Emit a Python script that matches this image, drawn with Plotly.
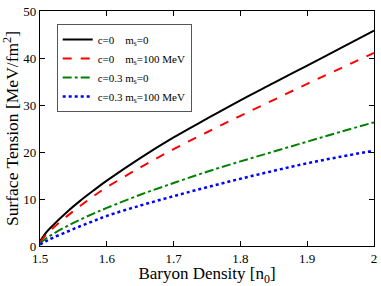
import plotly.graph_objects as go

density = [1.5, 1.51, 1.52, 1.54, 1.56, 1.58, 1.6, 1.65, 1.7, 1.75, 1.8, 1.85, 1.9, 1.95, 2.0]
sigma_c0_ms0 = [1.0, 3.0, 4.5, 7.2, 9.6, 11.8, 13.9, 18.7, 23.1, 27.1, 31.0, 34.7, 38.4, 42.1, 45.8]
sigma_c0_ms100 = [0.8, 2.5, 3.9, 6.3, 8.5, 10.6, 12.5, 16.7, 20.6, 24.2, 27.7, 31.1, 34.5, 37.8, 41.1]
sigma_c03_ms0 = [0.6, 1.7, 2.6, 4.2, 5.6, 6.9, 8.1, 10.9, 13.4, 15.8, 18.0, 20.1, 22.2, 24.3, 26.3]
sigma_c03_ms100 = [0.3, 1.1, 1.8, 3.0, 4.2, 5.3, 6.4, 8.6, 10.6, 12.5, 14.3, 16.0, 17.6, 19.0, 20.3]

NB = "\u00a0"
names = [
    "c=0" + NB * 4 + "m<sub>s</sub>=0",
    "c=0" + NB * 4 + "m<sub>s</sub>=100 MeV",
    "c=0.3" + NB * 1 + "m<sub>s</sub>=0",
    "c=0.3" + NB * 1 + "m<sub>s</sub>=100 MeV",
]
series = [sigma_c0_ms0, sigma_c0_ms100, sigma_c03_ms0, sigma_c03_ms100]
colors = ["#000000", "#ff0000", "#008000", "#0000ff"]
dashes = ["solid", "dash", "dashdot", "dot"]
widths = [2, 2, 2, 2.5]

fig = go.Figure()
for name, ys, c, d, w in zip(names, series, colors, dashes, widths):
    fig.add_trace(go.Scatter(x=density, y=ys, mode="lines", name=name,
                             line=dict(color=c, dash=d, width=w, shape="spline")))

font_family = "Liberation Serif, Times New Roman, serif"
axis_common = dict(showline=True, linecolor="black", linewidth=1.3, mirror="ticks",
                   ticks="inside", ticklen=5, tickcolor="black", showgrid=False,
                   zeroline=False, ticklabeloverflow="allow",
                   tickfont=dict(family=font_family, size=13, color="black"))

fig.update_xaxes(range=[1.5, 2.0], dtick=0.1, tick0=1.5,
                 title=dict(text="Baryon Density [n<sub>0</sub>]",
                            font=dict(family=font_family, size=17, color="black"), standoff=4),
                 **axis_common)
fig.update_yaxes(range=[0, 50], dtick=10,
                 title=dict(text="Surface Tension [MeV/fm<sup>2</sup>]",
                            font=dict(family=font_family, size=17.5, color="black"), standoff=1),
                 **axis_common)

fig.update_layout(
    width=381, height=286,
    margin=dict(l=40, r=4, t=5, b=36),
    paper_bgcolor="white", plot_bgcolor="white",
    font=dict(family=font_family, color="black"),
    legend=dict(x=0.05, y=0.945, xanchor="left", yanchor="top",
                bgcolor="white", bordercolor="#555", borderwidth=1,
                font=dict(family=font_family, size=11, color="black"),
                tracegroupgap=0),
)

fig.write_html("out.html", config={"displayModeBar": False},
               post_script="document.body.style.margin='0';document.body.style.padding='0';")
